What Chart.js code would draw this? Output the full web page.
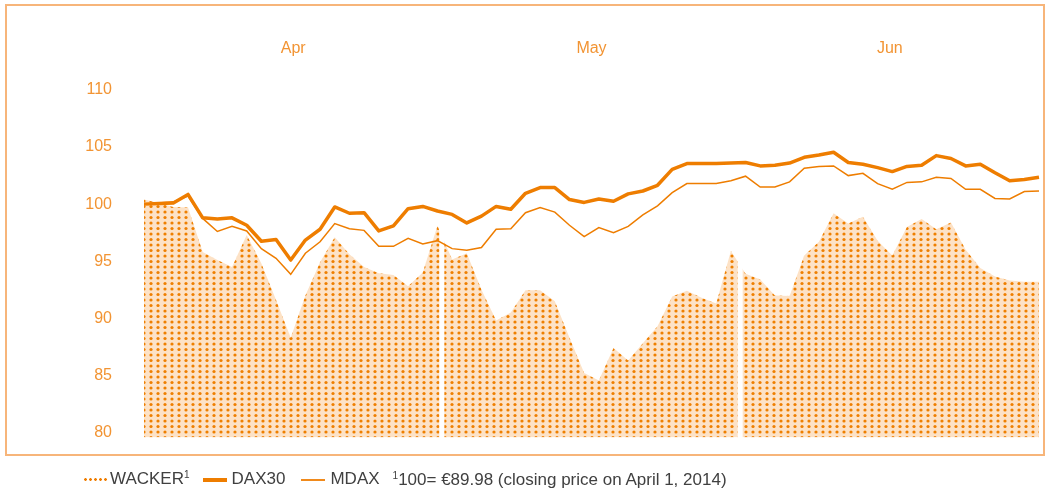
<!DOCTYPE html>
<html lang="en">
<head>
    <meta charset="UTF-8">
    <title>WACKER vs DAX30 / MDAX</title>
    <script src="https://cdn.jsdelivr.net/npm/chart.js@4"></script>
    <style>
        body { margin: 0; background: #fff; font-family: "Liberation Sans", Arial, sans-serif; }
        #wrap { position: absolute; left: 0; top: 0; width: 1048px; height: 479px; }
        #frame { position: absolute; left: 5px; top: 4px; width: 1036px; height: 448px;
                 border: 2px solid #f7b57a; pointer-events: none; }
        #legend { position: absolute; left: 83px; top: 469px; font-size: 17px; color: #404040;
                  white-space: nowrap; line-height: 20px; }
        #legend span { display: inline-block; vertical-align: middle; }
        .dots { width: 26px; height: 5px; margin-right: 1px;
                background: radial-gradient(circle, #f07d00 1.1px, transparent 1.6px) 0 0 / 5px 5px repeat-x; }
        .thick { width: 24px; height: 4px; background: #ee7d00; margin: 0 5px 0 13px; }
        .thin { width: 24px; height: 2px; background: #f08a1c; margin: 0 5px 0 16px; }
        sup { font-size: 10px; vertical-align: 6px; line-height: 0; }
        .note { margin-left: 13px; }
    </style>
</head>
<body>

<div id="wrap"><canvas id="chart"></canvas></div>
<div id="frame"></div>
<div id="legend">
    <span class="dots"></span>WACKER<sup>1</sup><span class="thick"></span>DAX30<span class="thin"></span>MDAX<span class="note"><sup>1</sup>100= €89.98 (closing price on April 1, 2014)</span>
</div>

<script>
    // indexed to 100, trading days April 1 - June 30, 2014
    const months = ['Apr', 'May', 'Jun'];
    const yTicks = [80, 85, 90, 95, 100, 105, 110];

    const wacker = [
        100.4, 100.1, 99.75, 99.7, 95.8, 95.1, 94.5, 97.3, 94.8, 91.6,
        88.3, 92.0, 94.9, 97.1, 95.6, 94.5, 93.95, 93.8, 92.8, 94.0,
        98.1,
        95.15, 95.7, 92.5, 89.8, 90.5, 92.45, 92.45, 91.5, 88.3, 85.2,
        84.55, 87.4, 86.3, 87.8, 89.3, 91.9, 92.4, 91.8, 91.3, 95.9,
        93.9, 93.4, 92.0, 91.95, 95.5, 96.7, 99.2, 98.3, 98.9, 96.8,
        95.5, 98.0, 98.7, 97.8, 98.4, 96.0, 94.4, 93.65, 93.3, 93.2,
        93.2
    ];
    const dax30 = [
        100.0, 100.05, 100.1, 100.85, 98.8, 98.7, 98.8, 98.15, 96.75, 96.9,
        95.1, 96.85, 97.8, 99.75, 99.2, 99.25, 97.65, 98.1, 99.6, 99.8,
        99.4,
        99.1, 98.35, 98.95, 99.8, 99.55, 100.95, 101.45, 101.45, 100.4, 100.15,
        100.45, 100.25, 100.9, 101.15, 101.65, 103.05, 103.55, 103.55, 103.55, 103.6,
        103.65, 103.35, 103.4, 103.6, 104.1, 104.3, 104.55, 103.65, 103.5, 103.2,
        102.85, 103.3, 103.4, 104.25, 104.0, 103.35, 103.5, 102.75, 102.05, 102.15,
        102.35
    ];
    const mdax = [
        100.0, 100.1, 100.2, 100.7, 98.75, 97.6, 98.05, 97.65, 96.1, 95.25,
        93.85, 95.7, 96.7, 98.3, 97.85, 97.7, 96.3, 96.3, 97.0, 96.5,
        96.8,
        96.1, 95.95, 96.2, 97.8, 97.85, 99.25, 99.7, 99.3, 98.15, 97.15,
        97.95, 97.5, 98.05, 99.05, 99.85, 101.0, 101.8, 101.8, 101.8, 102.05,
        102.45, 101.5, 101.5, 101.95, 103.15, 103.3, 103.35, 102.5, 102.7, 101.8,
        101.3, 101.9, 101.95, 102.35, 102.25, 101.3, 101.3, 100.5, 100.45, 101.1,
        101.15
    ];

    const orange = '#ee7d00';
    const tickOrange = '#f29433';

    // dotted screen for the WACKER area
    function dotPattern() {
        const tile = document.createElement('canvas');
        tile.width = 7;
        tile.height = 11;
        const c = tile.getContext('2d');
        c.fillStyle = '#fde2c6';
        c.fillRect(0, 0, 7, 11);
        c.fillStyle = '#ee7f00';
        [[4, 3], [4, 8.5]].forEach(([x, y]) => {
            c.beginPath();
            c.arc(x, y, 1.6, 0, Math.PI * 2);
            c.fill();
        });
        return document.getElementById('chart').getContext('2d').createPattern(tile, 'repeat');
    }

    // white breaks in the area at the month boundaries, drawn under the index lines
    const monthBreaks = {
        id: 'monthBreaks',
        afterDatasetDraw(chart, args) {
            if (chart.data.datasets[args.index].label !== 'WACKER') return;
            const top = chart.scales.month;
            const area = chart.chartArea;
            const ctx = chart.ctx;
            ctx.save();
            ctx.fillStyle = '#ffffff';
            for (let i = 1; i < months.length; i++) {
                const x = (top.getPixelForTick(i - 1) + top.getPixelForTick(i)) / 2;
                ctx.fillRect(x - 3, area.top, 5, area.bottom - area.top + 2);
            }
            ctx.restore();
        }
    };

    new Chart(document.getElementById('chart').getContext('2d'), {
        type: 'line',
        data: {
            labels: wacker.map((_, i) => i),
            datasets: [
                {
                    label: 'DAX30',
                    data: dax30,
                    borderColor: orange,
                    borderWidth: 3.5,
                    borderJoinStyle: 'round',
                    pointRadius: 0,
                    fill: false
                },
                {
                    label: 'MDAX',
                    data: mdax,
                    borderColor: orange,
                    borderWidth: 1.5,
                    pointRadius: 0,
                    fill: false
                },
                {
                    label: 'WACKER',
                    data: wacker,
                    borderWidth: 0,
                    borderColor: 'rgba(0,0,0,0)',
                    backgroundColor: dotPattern(),
                    pointRadius: 0,
                    fill: 'start'
                }
            ]
        },
        options: {
            responsive: true,
            maintainAspectRatio: false,
            animation: false,
            layout: { padding: { left: 85, right: 9, top: 37, bottom: 0 } },
            plugins: {
                legend: { display: false },
                tooltip: { enabled: false }
            },
            scales: {
                x: {
                    type: 'category',
                    display: false,
                    offset: false
                },
                month: {
                    type: 'category',
                    labels: months,
                    position: 'top',
                    offset: true,
                    grid: { display: false, drawTicks: false },
                    border: { display: false },
                    ticks: {
                        color: tickOrange,
                        font: { family: 'Liberation Sans', size: 16 },
                        padding: 32,
                        maxRotation: 0
                    },
                    afterFit: s => { s.height = 53; }
                },
                y: {
                    min: 79.56,
                    max: 110,
                    afterBuildTicks: s => { s.ticks = yTicks.map(v => ({ value: v })); },
                    grid: { display: false, drawTicks: false },
                    border: { display: false },
                    ticks: {
                        color: tickOrange,
                        font: { family: 'Liberation Sans', size: 16 },
                        padding: 32
                    },
                    afterFit: s => { s.width = 59; }
                }
            }
        },
        plugins: [monthBreaks]
    });
</script>

</body>
</html>
